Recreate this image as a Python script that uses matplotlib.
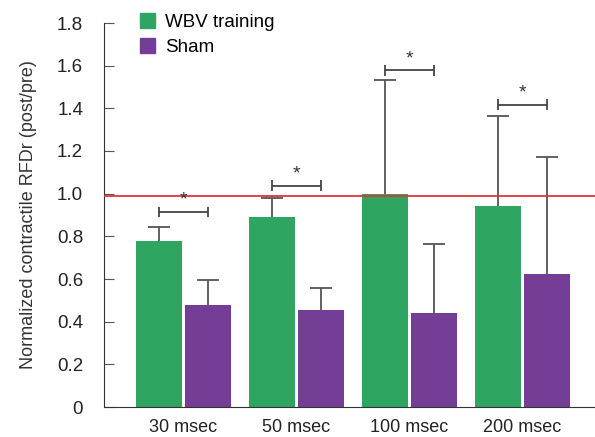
import numpy as np
from matplotlib import pyplot as plt
from matplotlib.patches import Patch

CATEGORIES = ["30 msec", "50 msec", "100 msec", "200 msec"]
WBV_MEAN = [0.778, 0.89, 0.998, 0.942]
WBV_SD = [0.066, 0.091, 0.535, 0.421]
SHAM_MEAN = [0.478, 0.455, 0.44, 0.623]
SHAM_SD = [0.116, 0.104, 0.322, 0.55]
BRACKET_Y = [0.914, 1.037, 1.578, 1.417]
REFERENCE_LINE = 0.989

GREEN = "#2fa562"
PURPLE = "#743e96"
GREY = "#555555"


def main():
    plt.rcParams["font.family"] = ["Liberation Sans", "DejaVu Sans"]
    fig = plt.figure(figsize=(5.95, 4.37), dpi=100)
    ax = fig.add_axes([104 / 595, 30 / 437, 491 / 595, 384 / 437])

    x = np.arange(len(CATEGORIES))
    width = 0.407
    offset = 0.217

    ax.bar(x - offset, WBV_MEAN, width, color=GREEN, zorder=2)
    ax.bar(x + offset, SHAM_MEAN, width, color=PURPLE, zorder=2)

    # upper error bars only
    for xs, means, sds in ((x - offset, WBV_MEAN, WBV_SD), (x + offset, SHAM_MEAN, SHAM_SD)):
        means = np.array(means)
        tops = means + np.array(sds)
        ax.vlines(xs, means, tops, color=GREY, lw=1.3, zorder=1)
        ax.hlines(tops, xs - 0.1, xs + 0.1, color=GREY, lw=1.3, zorder=1)

    ax.axhline(REFERENCE_LINE, color="#e0353d", lw=1.3, zorder=3)

    # significance brackets
    for xi, yb in zip(x, BRACKET_Y):
        x0, x1 = xi - offset, xi + offset
        ax.hlines(yb, x0, x1, color="#444444", lw=1.3)
        ax.vlines([x0, x1], yb - 0.025, yb + 0.025, color="#444444", lw=1.3)
        ax.text(xi, yb + 0.015, "*", ha="center", va="bottom", fontsize=14, color="#333333")

    ax.set_xlim(-0.704, 3.642)
    ax.set_ylim(0, 1.8)
    ax.set_xticks(x)
    ax.set_xticklabels(CATEGORIES, fontsize=13, color="#222222")
    ax.set_yticks(np.arange(0, 1.81, 0.2))
    ax.set_yticklabels(["0"] + [f"{v:.1f}" for v in np.arange(0.2, 1.81, 0.2)],
                       fontsize=13.5, color="#222222")
    ax.tick_params(axis="x", length=0, pad=9)
    ax.tick_params(axis="y", direction="in", length=7, color=GREY, pad=15)
    for side in ("top", "right"):
        ax.spines[side].set_visible(False)
    ax.spines["left"].set_color("#333333")
    ax.spines["bottom"].set_color("#333333")

    ax.set_ylabel("Normalized contractile RFDr (post/pre)", fontsize=13, color="#333333", labelpad=14)

    handles = [Patch(color=GREEN, label="WBV training"), Patch(color=PURPLE, label="Sham")]
    ax.legend(handles=handles, loc="upper left", bbox_to_anchor=(0.038, 1.07), frameon=False,
              fontsize=13.5, handlelength=0.85, handleheight=0.85, handletextpad=0.5,
              labelspacing=0.4)

    fig.savefig("out.png", dpi=100)


if __name__ == "__main__":
    main()
